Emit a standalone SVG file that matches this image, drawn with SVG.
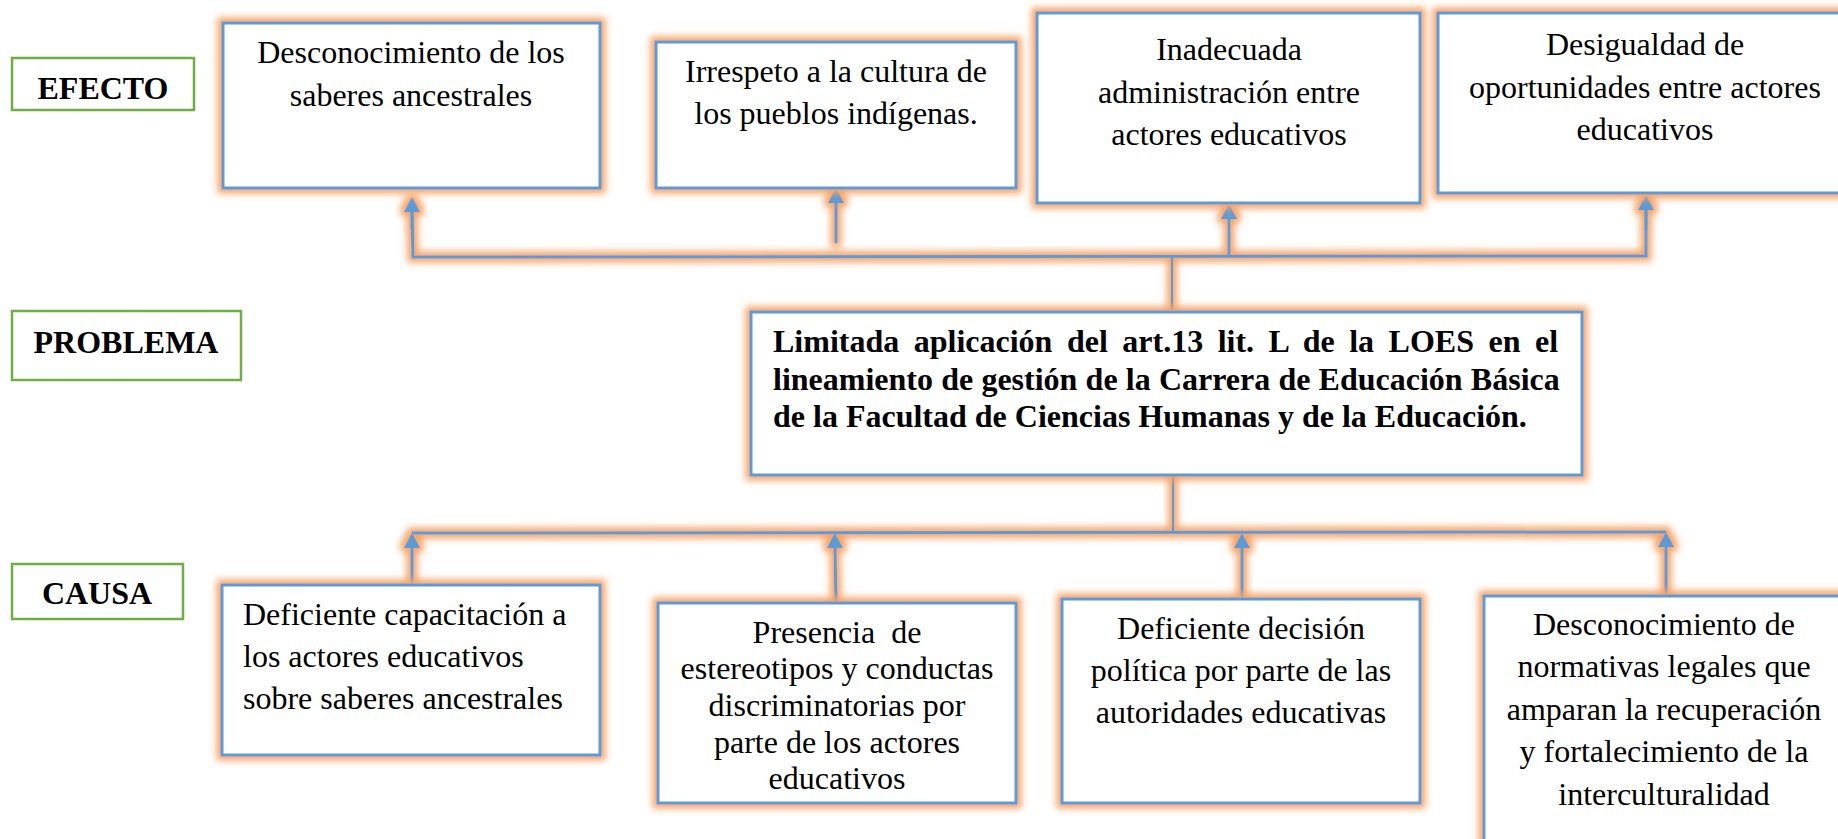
<svg xmlns="http://www.w3.org/2000/svg" width="1838" height="839" viewBox="0 0 1838 839">
<style>
.box{fill:#fff;stroke:#5B9BD5;stroke-width:3;filter:url(#glow)}
.lab{fill:#fff;stroke:#70AD47;stroke-width:2.5}
.t{font-family:"Liberation Serif","Times New Roman",serif;font-size:32px;fill:#000}
.c{text-anchor:middle}
.b{font-weight:bold}
.ln{stroke:#5B9BD5;stroke-width:3;fill:none}
.thin{stroke:#5B9BD5;stroke-width:2;fill:none}
</style>
<defs>
<filter id="glow" filterUnits="userSpaceOnUse" x="-50" y="-50" width="1950" height="950">
<feMorphology in="SourceAlpha" operator="dilate" radius="4" result="d"/>
<feGaussianBlur in="d" stdDeviation="3.5" result="bl"/>
<feFlood flood-color="#F5A468" flood-opacity="1"/>
<feComposite in2="bl" operator="in" result="g"/>
<feMerge><feMergeNode in="g"/><feMergeNode in="SourceGraphic"/></feMerge>
</filter>
<marker id="ah" viewBox="0 0 16 16" refX="0" refY="8" markerWidth="16" markerHeight="16" markerUnits="userSpaceOnUse" orient="auto">
<path d="M0,0 L15,8 L0,16 z" fill="#5B9BD5"/>
</marker>
</defs>

<g id="connectors" filter="url(#glow)">
<path class="ln" d="M412,212 L413,257 L1646,256 L1646,210"/>
<line class="ln" x1="412" y1="230" x2="412" y2="212" marker-end="url(#ah)"/>
<line class="ln" x1="1646" y1="230" x2="1646" y2="210" marker-end="url(#ah)"/>
<line class="ln" x1="836" y1="243" x2="836" y2="203" marker-end="url(#ah)"/>
<line class="ln" x1="1229" y1="256" x2="1229" y2="219" marker-end="url(#ah)"/>
<line class="thin" x1="1172" y1="256" x2="1172" y2="312"/>
<line class="thin" x1="1173" y1="475" x2="1173" y2="533"/>
<line class="ln" x1="412" y1="533" x2="1666" y2="532"/>
<line class="ln" x1="412" y1="585" x2="412" y2="548" marker-end="url(#ah)"/>
<line class="ln" x1="836" y1="603" x2="835" y2="548" marker-end="url(#ah)"/>
<line class="ln" x1="1242" y1="599" x2="1242" y2="548" marker-end="url(#ah)"/>
<line class="ln" x1="1666" y1="596" x2="1666" y2="547" marker-end="url(#ah)"/>
</g>

<g id="efecto">
<rect class="lab" x="12" y="58" width="182" height="52"/>
<text class="t b c" x="103" y="99">EFECTO</text>
</g>
<g id="problema">
<rect class="lab" x="12" y="311" width="229" height="69"/>
<text class="t b c" x="126" y="353">PROBLEMA</text>
</g>
<g id="causa">
<rect class="lab" x="12" y="564" width="171" height="55"/>
<text class="t b c" x="97" y="604">CAUSA</text>
</g>

<g id="efecto1">
<rect class="box" x="223" y="23" width="377" height="165"/>
<text class="t c" x="411" y="63">Desconocimiento de los</text>
<text class="t c" x="411" y="106">saberes ancestrales</text>
</g>
<g id="efecto2">
<rect class="box" x="656" y="42" width="360" height="146"/>
<text class="t c" x="836" y="82">Irrespeto a la cultura de</text>
<text class="t c" x="836" y="124">los pueblos indígenas.</text>
</g>
<g id="efecto3">
<rect class="box" x="1037" y="13" width="383" height="190"/>
<text class="t c" x="1229" y="60">Inadecuada</text>
<text class="t c" x="1229" y="103">administración entre</text>
<text class="t c" x="1229" y="145">actores educativos</text>
</g>
<g id="efecto4">
<rect class="box" x="1438" y="13" width="420" height="180"/>
<text class="t c" x="1645" y="55">Desigualdad de</text>
<text class="t c" x="1645" y="98">oportunidades entre actores</text>
<text class="t c" x="1645" y="140">educativos</text>
</g>

<g id="problema-central">
<rect class="box" x="751" y="312" width="831" height="163"/>
<text class="t b" x="773" y="352" word-spacing="6.5">Limitada aplicación del art.13 lit. L de la LOES en el</text>
<text class="t b" x="773" y="390" word-spacing="0.2">lineamiento de gestión de la Carrera de Educación Básica</text>
<text class="t b" x="773" y="427">de la Facultad de Ciencias Humanas y de la Educación.</text>
</g>

<g id="causa1">
<rect class="box" x="222" y="585" width="378" height="170"/>
<text class="t" x="243" y="625">Deficiente capacitación a</text>
<text class="t" x="243" y="667">los actores educativos</text>
<text class="t" x="243" y="709">sobre saberes ancestrales</text>
</g>
<g id="causa2">
<rect class="box" x="658" y="603" width="358" height="200"/>
<text class="t c" x="837" y="643" style="white-space:pre">Presencia  de</text>
<text class="t c" x="837" y="679">estereotipos y conductas</text>
<text class="t c" x="837" y="716">discriminatorias por</text>
<text class="t c" x="837" y="753">parte de los actores</text>
<text class="t c" x="837" y="789">educativos</text>
</g>
<g id="causa3">
<rect class="box" x="1062" y="599" width="358" height="204"/>
<text class="t c" x="1241" y="639">Deficiente decisión</text>
<text class="t c" x="1241" y="681">política por parte de las</text>
<text class="t c" x="1241" y="723">autoridades educativas</text>
</g>
<g id="causa4">
<rect class="box" x="1484" y="596" width="362" height="270"/>
<text class="t c" x="1664" y="635">Desconocimiento de</text>
<text class="t c" x="1664" y="677">normativas legales que</text>
<text class="t c" x="1664" y="720">amparan la recuperación</text>
<text class="t c" x="1664" y="762">y fortalecimiento de la</text>
<text class="t c" x="1664" y="805">interculturalidad</text>
</g>
</svg>
